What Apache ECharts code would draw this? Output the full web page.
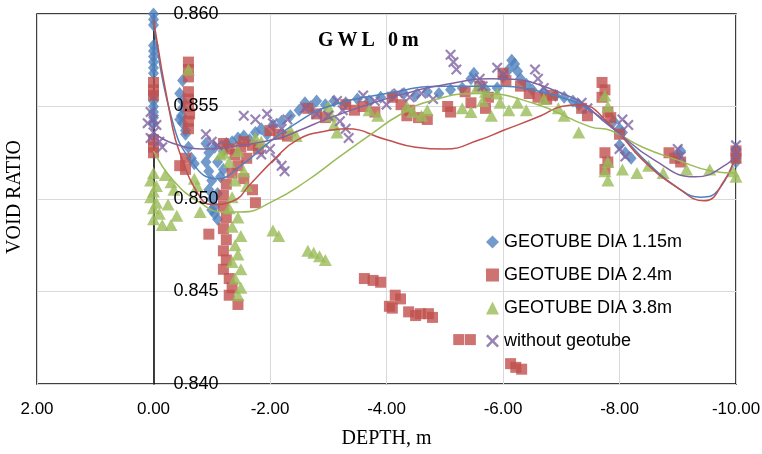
<!DOCTYPE html>
<html>
<head>
<meta charset="utf-8">
<script src="https://cdn.jsdelivr.net/npm/echarts@6/dist/echarts.min.js"></script>
<style>
  html, body { margin: 0; padding: 0; background: #fff; }
  #chart { width: 762px; height: 454px; }
</style>
</head>
<body>
<div id="chart"></div>
<script>
// depth (m), void ratio
const dia115 = [
  [0, 0.8600], [0, 0.8597], [0, 0.8594], [0, 0.8583], [0, 0.8580], [0, 0.8577], [0, 0.8574],
  [0, 0.8571], [0, 0.8568], [0, 0.8556], [0, 0.8553], [0, 0.8550], [0, 0.8547], [0, 0.8544], [0, 0.8541],
  [-0.5, 0.8564], [-0.45, 0.8557], [-0.5, 0.8553], [-0.5, 0.8549], [-0.48, 0.8545], [-0.5, 0.8541], [-0.55, 0.8537],
  [-0.45, 0.8543], [-0.55, 0.8535], [-0.6, 0.8528], [-0.65, 0.8522], [-0.7, 0.8519],
  [-0.9, 0.8530], [-0.95, 0.8525], [-0.9, 0.8520], [-0.95, 0.8515], [-1.0, 0.8510], [-0.95, 0.8505],
  [-1.0, 0.8500], [-1.05, 0.8496], [-1.05, 0.8492], [-1.1, 0.8489], [-1.0, 0.8494], [-1.1, 0.8503],
  [-1.15, 0.8512], [-1.1, 0.8520], [-1.2, 0.8526], [-1.25, 0.8530], [-1.05, 0.8528], [-1.2, 0.8516],
  [-1.35, 0.8531], [-1.45, 0.8533], [-1.55, 0.8534], [-1.65, 0.8532], [-1.75, 0.8536], [-1.85, 0.8538],
  [-1.95, 0.8535], [-2.05, 0.8540], [-2.2, 0.8542], [-2.35, 0.8545], [-2.5, 0.8548], [-2.6, 0.8552],
  [-2.7, 0.8550], [-2.8, 0.8553], [-2.95, 0.8551], [-3.1, 0.8553], [-3.3, 0.8552], [-3.5, 0.8554],
  [-3.7, 0.8553], [-3.9, 0.8555], [-4.1, 0.8556], [-4.3, 0.8557], [-4.5, 0.8556], [-4.7, 0.8558],
  [-4.9, 0.8557], [-5.1, 0.8559], [-5.3, 0.8560], [-5.45, 0.8565], [-5.5, 0.8568], [-5.7, 0.8559],
  [-5.9, 0.8560], [-6.0, 0.8566], [-6.1, 0.8570], [-6.2, 0.8573], [-6.25, 0.8569], [-6.3, 0.8565],
  [-6.15, 0.8575], [-6.4, 0.8562], [-6.5, 0.8559], [-6.7, 0.8558], [-6.9, 0.8556], [-7.05, 0.8555],
  [-7.2, 0.8553], [-7.3, 0.8551], [-7.9, 0.8542], [-8.0, 0.8538], [-8.05, 0.8536], [-8.0, 0.8529],
  [-8.1, 0.8525], [-8.2, 0.8522], [-9.05, 0.8526], [-9.0, 0.8523], [-10, 0.8527], [-10, 0.8523], [-10, 0.8520]
];
const dia24 = [
  [0, 0.8563], [0, 0.8559], [0, 0.8556], [0, 0.8532], [0, 0.8528], [0, 0.8525],
  [-0.6, 0.8574], [-0.6, 0.8570], [-0.6, 0.8566], [-0.6, 0.8558], [-0.6, 0.8554], [-0.6, 0.8550],
  [-0.62, 0.8546], [-0.6, 0.8542], [-0.6, 0.8538], [-0.55, 0.8522], [-0.45, 0.8518], [-0.55, 0.8516], [-0.95, 0.8481],
  [-1.2, 0.8530], [-1.3, 0.8527], [-1.4, 0.8524], [-1.5, 0.8528], [-1.6, 0.8522], [-1.45, 0.8518],
  [-1.35, 0.8514], [-1.55, 0.8511], [-1.7, 0.8505], [-1.75, 0.8498], [-1.25, 0.8508], [-1.2, 0.8502],
  [-1.2, 0.8496], [-1.25, 0.8490], [-1.2, 0.8484], [-1.25, 0.8478], [-1.2, 0.8472], [-1.25, 0.8467],
  [-1.2, 0.8462], [-1.3, 0.8457], [-1.35, 0.8452], [-1.3, 0.8448], [-1.45, 0.8443],
  [-3.62, 0.8457], [-3.77, 0.8456], [-3.9, 0.8455], [-4.15, 0.8448], [-4.24, 0.8446], [-4.05, 0.8442],
  [-4.1, 0.8441], [-4.38, 0.8439], [-4.5, 0.8437], [-4.58, 0.8438], [-4.72, 0.8438], [-4.79, 0.8436],
  [-5.24, 0.8424], [-5.44, 0.8424], [-6.13, 0.8411], [-6.22, 0.8409], [-6.32, 0.8408],
  [-1.55, 0.8531], [-1.7, 0.8529], [-1.8, 0.8527], [-2.0, 0.8537], [-2.15, 0.8535], [-2.3, 0.8534],
  [-2.65, 0.8549], [-2.8, 0.8546], [-2.95, 0.8544], [-3.3, 0.8551], [-3.45, 0.8548], [-3.6, 0.8550],
  [-3.8, 0.8547], [-4.1, 0.8555], [-4.25, 0.8551], [-4.4, 0.8548], [-4.35, 0.8545], [-4.55, 0.8544],
  [-4.7, 0.8543], [-5.05, 0.8550], [-5.1, 0.8547], [-5.35, 0.8558], [-5.45, 0.8552], [-5.6, 0.8561],
  [-5.7, 0.8549], [-5.75, 0.8555], [-6.0, 0.8568], [-6.05, 0.8564], [-6.3, 0.8561], [-6.45, 0.8557],
  [-6.6, 0.8555], [-6.75, 0.8554], [-6.85, 0.8556], [-7.35, 0.8549], [-7.45, 0.8545], [-7.7, 0.8563],
  [-7.75, 0.8559], [-7.7, 0.8555], [-7.8, 0.8547], [-7.85, 0.8544], [-7.75, 0.8525], [-7.8, 0.8520],
  [-7.75, 0.8516], [-8.0, 0.8535], [-8.85, 0.8525], [-8.95, 0.8522], [-9.05, 0.8520], [-10, 0.8526], [-10, 0.8522]
];
const dia38 = [
  [0, 0.8514], [0.05, 0.8510], [-0.05, 0.8507], [0, 0.8504], [0.05, 0.8501], [-0.05, 0.8498], [0, 0.8495],
  [-0.1, 0.8492], [0, 0.8489], [-0.15, 0.8486], [-0.2, 0.8513], [-0.3, 0.8509], [-0.35, 0.8505],
  [-0.25, 0.8497], [-0.4, 0.8491], [-0.3, 0.8486],
  [-0.6, 0.8570], [-0.7, 0.8511], [-0.75, 0.8507], [-0.8, 0.8493],
  [-1.2, 0.8525], [-1.3, 0.8520], [-1.45, 0.8526], [-1.55, 0.8515], [-1.4, 0.8510], [-1.6, 0.8507],
  [-1.35, 0.8501], [-1.3, 0.8495], [-1.45, 0.8490], [-1.35, 0.8485], [-1.5, 0.8480], [-1.4, 0.8475],
  [-1.45, 0.8470], [-1.35, 0.8466], [-1.5, 0.8462], [-1.4, 0.8457], [-1.5, 0.8452], [-1.45, 0.8448],
  [-2.05, 0.8483], [-2.15, 0.8480], [-2.65, 0.8472], [-2.75, 0.8471], [-2.85, 0.8469], [-2.95, 0.8467],
  [-1.15, 0.8524], [-1.75, 0.8533], [-1.85, 0.8531], [-2.35, 0.8537], [-2.45, 0.8534], [-3.0, 0.8550],
  [-3.05, 0.8545], [-3.1, 0.8540], [-3.15, 0.8536], [-3.7, 0.8548], [-3.85, 0.8545], [-4.35, 0.8550],
  [-4.45, 0.8547], [-4.6, 0.8545], [-4.7, 0.8548], [-5.3, 0.8549], [-5.45, 0.8547], [-5.55, 0.8560],
  [-5.7, 0.8558], [-5.65, 0.8553], [-5.8, 0.8545], [-5.9, 0.8557], [-5.95, 0.8552], [-6.1, 0.8548],
  [-6.25, 0.8552], [-6.4, 0.8548], [-6.7, 0.8554], [-6.95, 0.8549], [-7.05, 0.8545], [-7.3, 0.8536],
  [-7.75, 0.8556], [-7.8, 0.8550], [-7.8, 0.8520], [-7.75, 0.8515], [-7.8, 0.8510], [-8.05, 0.8516],
  [-8.3, 0.8514], [-8.5, 0.8518], [-8.75, 0.8514], [-9.15, 0.8516], [-9.55, 0.8516], [-9.95, 0.8515], [-10, 0.8512]
];
const noTube = [
  [0.05, 0.8547], [0, 0.8543], [-0.05, 0.8540], [0, 0.8536], [0.05, 0.8533], [-0.1, 0.8531], [-0.15, 0.8528], [0.1, 0.8541],
  [-0.9, 0.8535], [-1.0, 0.8531], [-1.1, 0.8529],
  [-1.55, 0.8545], [-1.75, 0.8543], [-1.95, 0.8546], [-2.05, 0.8541], [-2.2, 0.8538], [-2.3, 0.8543],
  [-2.0, 0.8527], [-2.1, 0.8522], [-2.2, 0.8518], [-1.85, 0.8524], [-2.25, 0.8515], [-2.6, 0.8549],
  [-2.8, 0.8546], [-3.0, 0.8545], [-3.15, 0.8553], [-3.25, 0.8548], [-3.2, 0.8542], [-3.3, 0.8538],
  [-3.35, 0.8533], [-3.6, 0.8556], [-3.8, 0.8553], [-4.0, 0.8551], [-4.2, 0.8557], [-4.4, 0.8555],
  [-4.6, 0.8557], [-4.8, 0.8554], [-5.1, 0.8578], [-5.15, 0.8574], [-5.2, 0.8570], [-5.6, 0.8565],
  [-5.65, 0.8561], [-5.9, 0.8571], [-6.0, 0.8567], [-6.55, 0.8570], [-6.6, 0.8565], [-6.7, 0.8560],
  [-7.35, 0.8552], [-7.45, 0.8549], [-8.05, 0.8543], [-8.15, 0.8540], [-8.0, 0.8527], [-8.1, 0.8523],
  [-9.0, 0.8527], [-9.05, 0.8523], [-10, 0.8529], [-10, 0.8524]
];

// trend lines
const trend115 = [
  [0, 0.8597], [-0.3, 0.8545], [-0.68, 0.8519], [-1.1, 0.8511], [-1.5, 0.8518], [-2.0, 0.8531],
  [-2.5, 0.8542], [-3.0, 0.8550], [-4.0, 0.8557], [-5.0, 0.8561], [-6.0, 0.8561], [-6.5, 0.8559],
  [-7.0, 0.8555], [-7.5, 0.8548], [-8.0, 0.8535], [-8.5, 0.8519], [-9.0, 0.8506], [-9.4, 0.8501],
  [-9.7, 0.8505], [-10, 0.8524]
];
const trend24 = [
  [0, 0.8597], [-0.3, 0.8543], [-0.45, 0.8525], [-0.8, 0.8501], [-1.0, 0.8497], [-1.37, 0.8499],
  [-1.66, 0.8508], [-2.06, 0.8521], [-2.47, 0.8532], [-3.0, 0.8537], [-3.3, 0.8538], [-4.0, 0.8532],
  [-4.5, 0.8528], [-5.0, 0.8527], [-5.6, 0.8532], [-6.0, 0.8537], [-6.65, 0.8545], [-7.0, 0.8550],
  [-7.3, 0.8551], [-7.85, 0.8540], [-8.4, 0.8521], [-9.0, 0.8506], [-9.45, 0.8499], [-9.8, 0.8510],
  [-10, 0.8524]
];
const trend38 = [
  [0, 0.8526], [-0.34, 0.8510], [-0.8, 0.8498], [-1.2, 0.8493], [-1.5, 0.8493], [-2.06, 0.8499],
  [-2.64, 0.8510], [-3.2, 0.8523], [-3.78, 0.8536], [-4.2, 0.8545], [-4.75, 0.8553], [-5.6, 0.8557],
  [-6.5, 0.8552], [-7.5, 0.8539], [-7.85, 0.8537], [-8.4, 0.8528], [-9.0, 0.8521], [-9.6, 0.8515],
  [-10, 0.8514]
];
const trendNo = [
  [0, 0.8536], [-0.34, 0.8530], [-0.92, 0.8527], [-1.5, 0.8529], [-2.17, 0.8533], [-2.5, 0.8537],
  [-3.04, 0.8544], [-4.2, 0.8556], [-5.2, 0.8563], [-5.8, 0.8565], [-7.1, 0.8556], [-7.85, 0.8539],
  [-8.6, 0.8521], [-9.3, 0.8512], [-9.85, 0.8519], [-10, 0.8525]
];

const names = ['GEOTUBE DIA 1.15m', 'GEOTUBE DIA 2.4m', 'GEOTUBE DIA 3.8m', 'without geotube'];
const colors = ['#4F81BD', '#C0504D', '#9BBB59', '#8064A2'];

const crossPath = 'path://M0,1.4L1.4,0L5,3.6L8.6,0L10,1.4L6.4,5L10,8.6L8.6,10L5,6.4L1.4,10L0,8.6L3.6,5Z';

// plot box: left 37, right edge 736 -> x = 0 sits 2/12 of the width in
const gridLeft = 37, gridRight = 26;
const zeroOffset = (762 - gridLeft - gridRight) * 2 / 12;

const chart = echarts.init(document.getElementById('chart'));

function trendLine(data, color) {
  return {
    type: 'line',
    data: data,
    smooth: 0.5,
    showSymbol: false,
    silent: true,
    lineStyle: { color: color, width: 1.5 },
    z: 3
  };
}

const yRange = { type: 'value', position: 'left', offset: -zeroOffset, min: 0.84, max: 0.86, interval: 0.005 };

const option = {
  animation: false,
  title: {
    text: '{c|G}{c|W}{c|L}{c| }{c|0}{c|m}',
    left: 313,
    top: 26,
    textStyle: {
      rich: {
        c: { fontFamily: 'Liberation Serif', fontWeight: 'bold', fontSize: 20, color: '#000', padding: [0, 4, 0, 0] }
      }
    }
  },
  graphic: [{
    type: 'text',
    left: 5,
    top: 140,
    rotation: Math.PI / 2,
    style: { text: 'VOID RATIO', font: '20px "Liberation Serif"', fill: '#000' }
  }],
  legend: {
    data: names,
    orient: 'vertical',
    left: 481,
    top: 228,
    itemWidth: 13,
    itemHeight: 13,
    itemGap: 15,
    textStyle: { fontFamily: 'Liberation Sans', fontSize: 18, color: '#000' }
  },
  grid: {
    left: gridLeft,
    right: gridRight,
    top: 14,
    bottom: 70,
    outerBoundsMode: 'none',
    show: true,
    borderColor: '#000',
    borderWidth: 1.5
  },
  xAxis: {
    type: 'value',
    min: -10,
    max: 2,
    interval: 2,
    inverse: true,
    name: 'DEPTH, m',
    nameLocation: 'middle',
    nameGap: 45,
    nameTextStyle: { fontFamily: 'Liberation Serif', fontSize: 20, color: '#000' },
    axisLine: { show: false, onZero: false },
    axisTick: { show: false },
    axisLabel: {
      margin: 17,
      fontFamily: 'Liberation Sans',
      fontSize: 17,
      color: '#000',
      formatter: v => v.toFixed(2)
    },
    splitLine: { lineStyle: { color: '#d9d9d9', width: 1 } }
  },
  yAxis: [
    Object.assign({}, yRange, {
      axisLine: { show: true, onZero: false, lineStyle: { color: '#000', width: 1.5 } },
      axisTick: { show: false },
      axisLabel: { show: false },
      splitLine: { lineStyle: { color: '#d9d9d9', width: 1 } }
    }),
    // same scale again, only for the labels so they sit above the markers
    Object.assign({}, yRange, {
      z: 10,
      axisLine: { show: false, onZero: false },
      axisTick: { show: false },
      splitLine: { show: false },
      axisLabel: {
        inside: true,
        margin: 20,
        fontFamily: 'Liberation Sans',
        fontSize: 18,
        color: '#000',
        formatter: v => v.toFixed(3)
      }
    })
  ],
  series: [
    { name: names[0], type: 'scatter', data: dia115, symbol: 'diamond', symbolSize: [11, 13], itemStyle: { color: colors[0] } },
    { name: names[1], type: 'scatter', data: dia24, symbol: 'rect', symbolSize: 11, itemStyle: { color: colors[1] } },
    { name: names[2], type: 'scatter', data: dia38, symbol: 'triangle', symbolSize: [13, 12], itemStyle: { color: colors[2] } },
    { name: names[3], type: 'scatter', data: noTube, symbol: crossPath, symbolSize: 11, itemStyle: { color: colors[3] } },
    trendLine(trend115, colors[0]),
    trendLine(trend24, colors[1]),
    trendLine(trend38, colors[2]),
    trendLine(trendNo, colors[3])
  ]
};

chart.setOption(option);
</script>
</body>
</html>
